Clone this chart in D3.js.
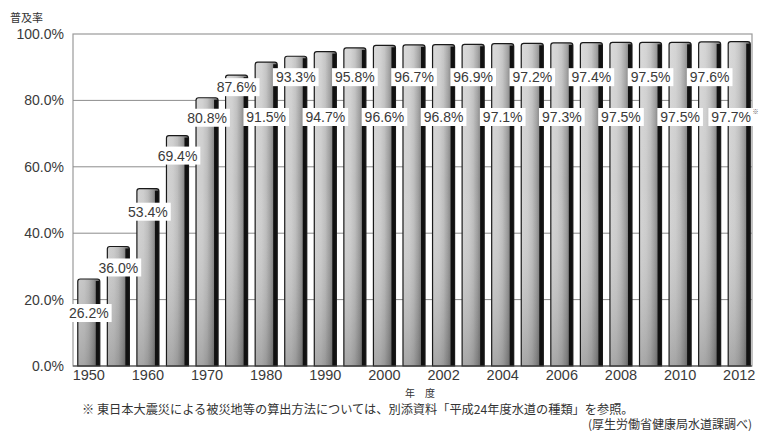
<!DOCTYPE html>
<html>
<head>
<meta charset="utf-8">
<script src="https://cdn.jsdelivr.net/npm/d3@7"></script>
<style>
  html, body { margin: 0; padding: 0; background: #fff; }
  svg { display: block; }
  text { font-family: "Liberation Sans", Arial, sans-serif; }
  .jp { font-family: "Noto Sans CJK JP", sans-serif; }
</style>
</head>
<body>
<svg id="chart" width="763" height="431"></svg>
<script>
// 水道普及率の推移（年度別）
const years = ['1950','1955','1960','1965','1970','1975','1980','1985','1990','1995',
               '2000','2001','2002','2003','2004','2005','2006','2007','2008','2009',
               '2010','2011','2012'];
const rates = [26.2, 36.0, 53.4, 69.4, 80.8, 87.6, 91.5, 93.3, 94.7, 95.8,
               96.6, 96.7, 96.8, 96.9, 97.1, 97.2, 97.3, 97.4, 97.5, 97.5,
               97.5, 97.6, 97.7];
const tickYears = ['1950','1960','1970','1980','1990','2000','2002','2004',
                   '2006','2008','2010','2012'];
const yTicks = [0, 20, 40, 60, 80, 100];
const noteMarkYear = '2012';

const yAxisTitle = '普及率';
const xAxisTitle = '年　度';
const footnote = '※ 東日本大震災による被災地等の算出方法については、別添資料「平成24年度水道の種類」を参照。';
const source = '(厚生労働省健康局水道課調べ)';

const data = years.map((y, i) => ({ year: y, value: rates[i], i }));

const svg = d3.select('#chart');
const plot = { left: 73, right: 752, top: 34, bottom: 366 };

const x = d3.scaleBand()
  .domain(years)
  .range([74, 754])
  .paddingInner(0.255)
  .paddingOuter(0.1275);

const y = d3.scaleLinear()
  .domain([0, 100])
  .range([plot.bottom, plot.top]);

// gradients for the shaded columns
const defs = svg.append('defs');
const hg = defs.append('linearGradient')
  .attr('id', 'barShade').attr('x1', 0).attr('x2', 1).attr('y1', 0).attr('y2', 0);
[[0, '#d4d4d4'], [0.3, '#cdcdcd'], [0.7, '#adadad'], [1, '#7e7e7e']]
  .forEach(([o, c]) => hg.append('stop').attr('offset', o).attr('stop-color', c));

const vg = defs.append('linearGradient')
  .attr('id', 'barDepth').attr('gradientUnits', 'userSpaceOnUse')
  .attr('x1', 0).attr('x2', 0).attr('y1', plot.top).attr('y2', plot.bottom);
[[0, '#ffffff', 0.15], [0.45, '#ffffff', 0], [1, '#000000', 0.2]]
  .forEach(([o, c, a]) => vg.append('stop').attr('offset', o)
    .attr('stop-color', c).attr('stop-opacity', a));

const hgEdge = defs.append('linearGradient')
  .attr('id', 'rightFade').attr('x1', 0).attr('x2', 1).attr('y1', 0).attr('y2', 0);
[[0, '#000', 0], [0.5, '#000', 0], [1, '#000', 0.22]]
  .forEach(([o, c, a]) => hgEdge.append('stop').attr('offset', o)
    .attr('stop-color', c).attr('stop-opacity', a));

// plot frame and gridlines
svg.append('rect')
  .attr('x', plot.left).attr('y', plot.top)
  .attr('width', plot.right - plot.left).attr('height', plot.bottom - plot.top)
  .attr('fill', '#fff').attr('stroke', '#9a9a9a').attr('stroke-width', 1.2);

svg.append('g')
  .selectAll('line')
  .data(yTicks.filter(t => t > 0 && t < 100))
  .join('line')
  .attr('x1', plot.left).attr('x2', plot.right)
  .attr('y1', d => y(d)).attr('y2', d => y(d))
  .attr('stroke', '#8c8c8c').attr('stroke-width', 1);

// columns
const bw = x.bandwidth();
const r = 2.5;
function barPath(x0, y0, w, h) {
  return `M${x0},${y0 + h} L${x0},${y0 + r} Q${x0},${y0} ${x0 + r},${y0}
          L${x0 + w - r},${y0} Q${x0 + w},${y0} ${x0 + w},${y0 + r} L${x0 + w},${y0 + h} Z`;
}

const bars = svg.append('g').selectAll('g').data(data).join('g');
const shape = d => barPath(x(d.year), y(d.value), bw, y(0) - y(d.value));

bars.append('path').attr('d', shape).attr('fill', 'url(#barShade)');
bars.append('path').attr('d', shape).attr('fill', 'url(#barDepth)');
bars.append('path').attr('d', shape).attr('fill', 'url(#rightFade)');
// dark side strip
bars.append('rect')
  .attr('x', d => x(d.year) + bw - 4)
  .attr('y', d => y(d.value) + 2)
  .attr('width', 4)
  .attr('height', d => y(0) - y(d.value) - 2)
  .attr('fill', '#111');
bars.append('path').attr('d', shape)
  .attr('fill', 'none').attr('stroke', '#1a1a1a').attr('stroke-width', 1.2);

// baseline
svg.append('line')
  .attr('x1', plot.left).attr('x2', plot.right)
  .attr('y1', y(0)).attr('y2', y(0))
  .attr('stroke', '#444').attr('stroke-width', 1.2);

// value labels: early columns sit just under their tops, later ones alternate in two rows
const earlyDrop = [34, 21, 23, 20, 20, 12];
function labelY(d) {
  if (d.i < earlyDrop.length) return y(d.value) + earlyDrop[d.i];
  return d.i % 2 === 0 ? y(75.0) : y(87.0);
}
// the last label is nudged left to leave room for its note mark
function labelX(d) {
  return x(d.year) + bw / 2 - (d.year === noteMarkYear ? 8 : 0);
}

const labels = svg.append('g').selectAll('g').data(data).join('g')
  .attr('transform', d => `translate(${labelX(d)},${labelY(d)})`);

labels.append('rect').attr('class', 'bg').attr('fill', '#fff');
labels.append('text')
  .attr('class', 'val')
  .attr('text-anchor', 'middle')
  .attr('dy', '0.36em')
  .attr('font-size', 14)
  .attr('fill', '#3a3a3a')
  .text(d => d.value.toFixed(1) + '%');
labels.each(function (d) {
  const g = d3.select(this);
  const w = g.select('text.val').node().getComputedTextLength();
  const extra = d.year === noteMarkYear ? 7 : 0;
  g.select('rect.bg')
    .attr('x', -w / 2 - 3).attr('y', -9)
    .attr('width', w + 6 + extra).attr('height', 18);
  g.attr('data-w', w);
});
labels.filter(d => d.year === noteMarkYear)
  .append('text')
  .attr('class', 'jp')
  .attr('x', function () { return +this.parentNode.getAttribute('data-w') / 2 + 1.5; })
  .attr('y', -3)
  .attr('font-size', 6)
  .attr('fill', '#555')
  .text('※');

// y axis
const yAxis = d3.axisLeft(y)
  .tickValues(yTicks)
  .tickSize(0)
  .tickPadding(9)
  .tickFormat(d => d.toFixed(1) + '%');
const ya = svg.append('g').attr('transform', `translate(${plot.left},0)`).call(yAxis);
ya.select('.domain').remove();
ya.selectAll('text')
  .attr('font-size', 14)
  .attr('font-family', '"Liberation Sans", Arial, sans-serif')
  .attr('fill', '#3a3a3a');

// x axis
const xAxis = d3.axisBottom(x).tickValues(tickYears).tickSize(0).tickPadding(4);
const xa = svg.append('g').attr('transform', `translate(0,${plot.bottom})`).call(xAxis);
xa.select('.domain').remove();
xa.selectAll('text')
  .attr('font-size', 14.5)
  .attr('font-family', '"Liberation Sans", Arial, sans-serif')
  .attr('fill', '#3a3a3a');

// titles and notes
svg.append('text').attr('class', 'jp')
  .attr('x', 10).attr('y', 22)
  .attr('font-size', 11).attr('fill', '#333')
  .text(yAxisTitle);

svg.append('text').attr('class', 'jp')
  .attr('x', 420).attr('y', 397)
  .attr('text-anchor', 'middle')
  .attr('font-size', 10).attr('fill', '#333')
  .text(xAxisTitle);

svg.append('text').attr('class', 'jp')
  .attr('x', 82).attr('y', 414)
  .attr('font-size', 12.2).attr('fill', '#333')
  .text(footnote);

svg.append('text').attr('class', 'jp')
  .attr('x', 752).attr('y', 429)
  .attr('text-anchor', 'end')
  .attr('font-size', 12).attr('fill', '#333')
  .text(source);
</script>
</body>
</html>
